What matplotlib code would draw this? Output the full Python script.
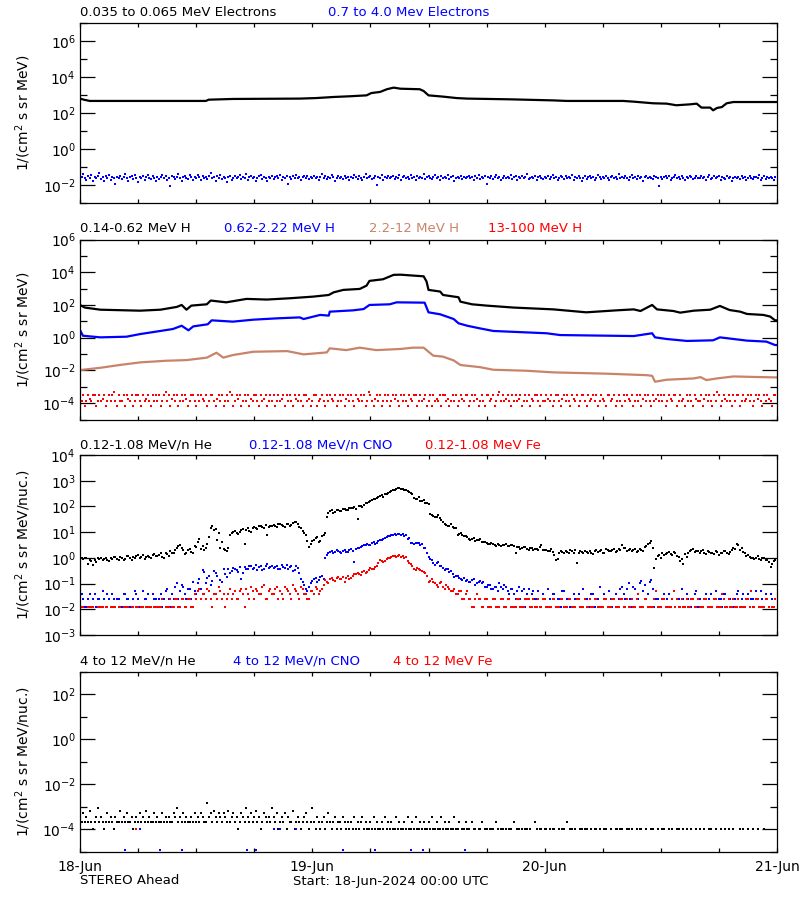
import numpy as np
import matplotlib
matplotlib.use('Agg')
import matplotlib.pyplot as plt
from matplotlib.ticker import FixedLocator, FuncFormatter, NullFormatter

# ---------------- data (time in hours since 18-Jun-2024 00:00 UTC) ----------------
# Panel 1: electrons
e_lo_t = [0, 0.4, 1.0, 13.0, 13.3, 15.8, 22.7, 24.4, 26.2, 27.9, 29.6, 30.1, 31.0, 31.7, 32.4,
          33.1, 35.1, 35.5, 36.0, 37.5, 38.9, 40.0, 44.4, 48.9, 50.3, 56.1, 57.2, 59.2, 60.6,
          61.6, 63.0, 63.7, 64.2, 65.1, 65.4, 65.8, 66.3, 66.8, 67.2, 67.5, 72.0]
e_lo_log = [2.80, 2.74, 2.67, 2.67, 2.74, 2.78, 2.80, 2.83, 2.89, 2.93, 2.98, 3.11, 3.17, 3.32, 3.41,
            3.35, 3.32, 3.22, 2.98, 2.91, 2.83, 2.80, 2.76, 2.70, 2.67, 2.67, 2.63, 2.54, 2.52,
            2.43, 2.48, 2.52, 2.30, 2.30, 2.15, 2.28, 2.33, 2.54, 2.58, 2.61, 2.61]
# 0.7-4.0 MeV electrons, 10-min samples, units of 1e-3
e_hi_milli = [
    35, 27, 41, 23, 19, 31, 25, 37, 17, 29, 23, 33, 45, 21, 27, 16, 31, 25, 35, 19, 29, 23, 11, 27,
    25, 33, 21, 29, 39, 23, 17, 27, 31, 21, 35, 25, 15, 29, 23, 33, 19, 27, 37, 25, 21, 31, 23, 16,
    29, 21, 27, 35, 23, 31, 19, 25, 9, 33, 27, 21, 29, 39, 23, 17, 27, 31, 25, 21, 35, 27, 19, 29,
    23, 37, 27, 19, 31, 25, 29, 21, 33, 45, 23, 27, 17, 31, 25, 35, 21, 29, 23, 14, 27, 33, 19, 25,
    31, 23, 27, 35, 21, 29, 25, 41, 19, 27, 33, 23, 29, 17, 25, 31, 37, 21, 27, 23, 16, 29, 25, 33,
    21, 27, 31, 23, 35, 19, 29, 25, 33, 11, 27, 21, 31, 25, 37, 23, 29, 19, 27, 33, 23, 31, 21, 27,
    25, 33, 23, 29, 19, 27, 39, 25, 31, 21, 27, 23, 35, 29, 17, 25, 31, 23, 27, 21, 33, 25, 29, 19,
    29, 23, 35, 27, 21, 31, 25, 19, 29, 43, 23, 27, 33, 21, 25, 31, 10, 27, 23, 35, 19, 29, 25, 31,
    23, 27, 33, 21, 29, 25, 37, 19, 27, 31, 23, 29, 21, 35, 25, 27, 19, 33, 23, 29, 25, 41, 21, 27,
    31, 25, 21, 29, 35, 23, 27, 19, 33, 25, 29, 23, 37, 21, 27, 31, 17, 25, 29, 23, 33, 21, 27, 25,
    27, 33, 23, 29, 19, 31, 25, 35, 21, 27, 23, 31, 12, 29, 25, 33, 21, 27, 37, 23, 29, 19, 25, 31,
    23, 29, 25, 35, 21, 27, 31, 19, 29, 25, 33, 23, 27, 39, 21, 25, 29, 23, 31, 19, 27, 33, 25, 21,
    29, 25, 31, 21, 27, 35, 23, 29, 19, 25, 33, 27, 21, 31, 23, 29, 25, 37, 19, 27, 23, 31, 25, 16,
    25, 31, 21, 27, 33, 23, 29, 19, 25, 35, 27, 21, 29, 23, 31, 25, 19, 27, 33, 23, 29, 21, 41, 25,
    27, 23, 31, 25, 19, 29, 35, 23, 27, 21, 31, 25, 29, 17, 27, 33, 23, 29, 25, 21, 31, 27, 23, 9,
    29, 21, 27, 33, 23, 31, 19, 25, 29, 37, 23, 27, 21, 31, 25, 19, 29, 23, 33, 27, 21, 25, 31, 23,
    25, 31, 23, 27, 19, 29, 35, 21, 25, 31, 23, 27, 33, 19, 29, 25, 21, 31, 23, 27, 17, 25, 29, 23,
    27, 21, 31, 25, 29, 19, 23, 33, 25, 21, 29, 27, 23, 35, 19, 25, 31, 21, 27, 23, 29, 25, 19, 27]

# Panel 2: protons
h1_t = [0, 0.5, 2.1, 6.2, 8.3, 10.0, 10.5, 11.0, 11.5, 13.1, 13.5, 15.1, 17.2, 19.3, 21.7, 24.1,
        25.7, 26.2, 27.2, 28.9, 29.6, 29.9, 31.3, 32.4, 33.1, 35.5, 35.8, 36.0, 37.2, 37.5, 39.1,
        39.3, 40.5, 42.0, 44.8, 48.9, 52.3, 55.4, 57.2, 57.9, 59.1, 59.6, 61.3, 62.0, 63.4, 65.1,
        66.1, 67.1, 68.2, 68.9, 70.6, 71.3, 71.8, 72.0]
h1_log = [2.0, 1.84, 1.71, 1.65, 1.71, 1.88, 2.0, 1.71, 1.96, 2.04, 2.27, 2.16, 2.37, 2.33, 2.41, 2.51,
          2.61, 2.77, 2.92, 2.98, 3.18, 3.47, 3.57, 3.84, 3.85, 3.75, 3.43, 2.92, 2.82, 2.61, 2.47,
          2.2, 2.04, 1.96, 1.84, 1.73, 1.55, 1.67, 1.73, 1.63, 2.0, 1.73, 1.63, 1.53, 1.65, 1.71,
          1.94, 1.69, 1.59, 1.45, 1.39, 1.29, 1.06, 1.06]
h2_t = [0, 0.3, 2.1, 4.8, 6.2, 8.3, 9.6, 10.5, 11.2, 11.7, 13.2, 13.6, 15.8, 17.9, 20.3, 22.7, 23.1,
        24.8, 25.7, 25.8, 28.2, 29.3, 29.9, 32.0, 32.7, 35.6, 36.0, 37.2, 38.6, 39.1, 40.0, 41.3,
        42.7, 48.2, 49.6, 57.2, 59.1, 59.4, 60.6, 62.7, 65.4, 66.1, 67.5, 68.9, 70.9, 71.8, 72.0]
h2_log = [0.47, 0.12, 0.02, 0.06, 0.22, 0.41, 0.53, 0.73, 0.45, 0.69, 0.82, 1.06, 0.98, 1.10, 1.18,
          1.24, 1.14, 1.39, 1.35, 1.59, 1.67, 1.75, 2.0, 2.04, 2.16, 2.14, 1.55, 1.43, 1.14, 0.88,
          0.73, 0.57, 0.41, 0.27, 0.16, 0.10, 0.27, 0.02, -0.08, -0.20, -0.16, 0.02, -0.08, -0.18,
          -0.24, -0.45, -0.45]
h3_t = [0, 2.1, 4.1, 6.2, 8.9, 11.0, 13.1, 14.1, 14.8, 15.8, 17.9, 21.4, 23.1, 25.5, 25.8, 27.5,
        28.9, 30.6, 33.1, 34.4, 35.5, 36.0, 36.5, 37.5, 38.6, 39.3, 41.3, 42.7, 46.1, 48.9, 54.4,
        58.5, 59.1, 59.4, 60.6, 63.4, 64.1, 64.7, 65.8, 67.5, 72.0]
h3_log = [-1.98, -1.84, -1.67, -1.51, -1.41, -1.37, -1.22, -0.92, -1.22, -1.06, -0.86, -0.82, -1.02,
          -0.90, -0.65, -0.76, -0.61, -0.76, -0.69, -0.61, -0.61, -0.86, -1.10, -1.16, -1.39, -1.67,
          -1.80, -1.96, -2.02, -2.12, -2.20, -2.29, -2.33, -2.69, -2.57, -2.49, -2.41, -2.59, -2.49,
          -2.37, -2.43]
# 13-100 MeV H: 10-min samples, codes into h4_levels (0 = no data)
h4_levels = [6.9e-5, 1.32e-4, 1.9e-4, 3.1e-4, 4.9e-4]
h4_code = [
    4, 2, 4, 1, 2, 4, 3, 2, 4, 4, 1, 2, 4, 2, 3, 4, 1, 2, 4, 2, 4, 5, 2, 1,
    4, 2, 2, 4, 1, 4, 3, 2, 4, 1, 2, 4, 4, 2, 1, 4, 2, 3, 4, 2, 1, 4, 2, 4,
    2, 4, 1, 2, 4, 5, 2, 4, 1, 3, 4, 2, 4, 1, 2, 4, 2, 4, 3, 1, 2, 4, 4, 2,
    1, 4, 2, 4, 3, 2, 4, 1, 2, 4, 4, 2, 1, 3, 4, 2, 4, 1, 2, 4, 2, 5, 4, 1,
    2, 4, 3, 4, 1, 2, 4, 2, 4, 1, 3, 2, 4, 4, 2, 1, 4, 2, 3, 4, 1, 2, 4, 2,
    4, 1, 2, 4, 2, 3, 4, 1, 4, 2, 4, 2, 1, 4, 3, 2, 4, 2, 1, 4, 4, 2, 3, 1,
    2, 4, 4, 1, 2, 3, 4, 2, 1, 4, 2, 4, 3, 2, 4, 1, 2, 4, 2, 4, 1, 3, 4, 2,
    4, 2, 1, 4, 3, 2, 4, 2, 4, 1, 2, 5, 4, 2, 1, 3, 4, 2, 4, 1, 2, 4, 2, 4,
    1, 2, 4, 3, 4, 2, 1, 4, 2, 4, 2, 1, 4, 3, 2, 4, 4, 1, 2, 4, 2, 3, 4, 1,
    2, 4, 1, 4, 2, 3, 2, 4, 1, 4, 4, 2, 3, 1, 2, 4, 2, 4, 1, 2, 4, 3, 2, 4,
    4, 1, 2, 4, 2, 4, 3, 1, 2, 4, 2, 1, 4, 4, 2, 3, 4, 1, 2, 4, 5, 2, 4, 2,
    3, 4, 2, 1, 4, 2, 4, 2, 3, 4, 1, 2, 4, 2, 4, 1, 3, 2, 4, 4, 2, 1, 4, 2,
    2, 4, 3, 2, 4, 1, 2, 4, 4, 2, 1, 3, 4, 2, 4, 2, 1, 4, 3, 2, 4, 1, 2, 4,
    4, 2, 1, 4, 2, 3, 4, 2, 4, 1, 2, 4, 3, 2, 1, 4, 4, 2, 3, 4, 1, 2, 4, 2,
    1, 4, 2, 4, 3, 2, 4, 1, 2, 4, 2, 4, 1, 3, 4, 2, 4, 2, 1, 4, 2, 3, 4, 2,
    4, 2, 4, 1, 2, 4, 3, 2, 4, 4, 1, 2, 4, 2, 3, 1, 4, 2, 4, 2, 1, 4, 3, 2,
    2, 4, 1, 3, 4, 2, 4, 2, 1, 4, 2, 5, 4, 1, 2, 4, 3, 2, 4, 2, 1, 4, 2, 4,
    4, 1, 2, 4, 2, 3, 4, 2, 4, 1, 2, 4, 3, 4, 2, 1, 4, 2, 4, 3, 2, 1, 4, 4]

# Panel 3: 0.12-1.08 MeV/n, values on the 20-min grid and at the 10-min points in between
he_lo = [
    1.1, 0.9, 1.0, 0.8, 0.55, 0.7, 0.9, 0.85, 1.0, 0.75, 0.9, 1.1,
    0.8, 1.0, 0.9, 1.2, 0.85, 1.0, 1.3, 1.1, 0.9, 1.2, 1.0, 1.4,
    1.2, 1.5, 1.0, 1.4, 1.8, 1.6, 2.4, 3.3, 2.0, 1.6, 2.2, 1.5,
    2.6, 5.5, 3.0, 2.4, 6.5, 17, 13, 9.0, 4.0, 2.0, 2.4, 9.5,
    11, 8.5, 12, 3.6, 14, 10, 16, 13, 18, 15, 7.8, 17,
    19, 16, 21, 18, 20, 17, 22, 24, 16, 11, 7.5, 2.7,
    4.5, 5.8, 4.0, 7.0, 9.5, 55, 70, 62, 75, 68, 80, 72,
    85, 95, 33, 105, 115, 140, 160, 190, 220, 260, 240, 310,
    380, 420, 470, 520, 480, 450, 380, 300, 190, 230, 160, 140,
    125, 48, 40, 45, 30, 20, 18, 21, 15, 8.0, 9.5, 7.0,
    6.5, 5.0, 6.0, 4.8, 5.2, 4.0, 3.8, 3.4, 3.6, 3.0, 3.3, 3.1,
    3.4, 2.8, 3.2, 1.6, 2.6, 2.4, 2.7, 2.1, 2.5, 2.2, 2.0, 3.3,
    2.0, 1.8, 2.2, 1.3, 0.9, 1.9, 1.5, 1.7, 2.0, 1.6, 0.65, 1.8,
    1.5, 1.7, 1.9, 1.4, 2.1, 1.8, 1.6, 2.3, 1.9, 2.0, 1.7, 2.2,
    3.2, 2.5, 2.0, 1.8, 2.2, 1.9, 2.1, 2.6, 3.6, 4.5, 0.4, 1.2,
    1.0, 1.3, 1.6, 1.4, 1.7, 1.2, 0.75, 0.6, 1.1, 1.9, 2.2, 1.8,
    1.6, 2.0, 1.4, 1.7, 1.5, 1.9, 1.3, 1.6, 1.8, 1.4, 2.1, 2.3,
    3.3, 2.4, 1.5, 1.3, 1.0, 0.9, 1.2, 0.8, 1.0, 0.85, 0.45, 0.75]
he_lo_mid = [
    0.95, 1.0, 0.6, 0.75, 0.8, 0.95, 1.0, 0.9, 0.85, 1.0, 1.05, 0.9,
    1.1, 0.85, 1.15, 0.95, 1.1, 1.2, 0.95, 1.3, 1.05, 1.1, 1.3, 1.2,
    1.3, 1.1, 1.6, 1.2, 1.5, 2.0, 3.0, 2.5, 1.4, 2.0, 1.7, 2.8,
    4.2, 2.2, 2.0, 3.5, 15, 12, 5.0, 2.5, 2.2, 1.8, 8.0, 10.5,
    9.5, 10, 13, 12, 11, 15, 14, 17, 16, 19, 16, 18,
    17, 20, 19, 16, 21, 19, 25, 20, 14, 9.5, 4.5, 3.5,
    5.0, 6.5, 4.5, 8.0, 40, 65, 58, 72, 66, 78, 74, 88,
    90, 80, 100, 95, 130, 150, 175, 200, 240, 280, 300, 340,
    400, 450, 500, 470, 430, 410, 330, 220, 200, 170, 180, 130,
    50, 42, 38, 35, 24, 19, 17, 16, 14, 8.5, 7.5, 6.8,
    5.5, 5.2, 4.5, 5.0, 4.3, 4.0, 3.5, 3.7, 3.2, 3.5, 2.9, 3.3,
    3.0, 3.1, 2.9, 2.6, 2.3, 2.7, 2.3, 2.4, 2.1, 2.3, 2.6, 2.1,
    2.1, 1.9, 1.7, 0.85, 1.6, 1.7, 1.9, 1.5, 1.8, 2.1, 1.6, 1.7,
    1.8, 1.6, 1.5, 1.9, 1.7, 2.0, 1.5, 2.0, 1.8, 2.3, 1.9, 2.0,
    2.4, 1.9, 2.2, 2.0, 1.7, 2.3, 1.9, 3.0, 3.8, 2.5, 0.9, 1.3,
    1.5, 1.4, 1.7, 1.3, 1.5, 1.1, 0.9, 1.4, 1.6, 2.0, 1.7, 1.9,
    1.8, 1.5, 1.9, 1.6, 1.4, 1.7, 1.6, 1.9, 1.5, 1.7, 2.4, 3.5,
    2.0, 1.7, 1.2, 1.1, 0.95, 1.0, 0.9, 0.95, 0.8, 0.7, 0.6, 0.8]
count_unit3 = 0.0126
cno_lo_code = [
    6, 2, 1, 3, 2, 1, 2, 4, 1, 2, 3, 1,
    2, 1, 3, 2, 1, 4, 2, 1, 2, 3, 1, 2,
    1, 3, 2, 5, 1, 2, 8, 4, 6, 2, 5, 9,
    3, 12, 27, 8, 15, 10, 20, 6, 9, 18, 28, 24,
    30, 22, 12, 35, 28, 40, 33, 26, 38, 30, 44, 36,
    32, 40, 29, 36, 42, 34, 24, 38, 20, 9, 5, 6,
    10, 13, 11, 15, 80, 120, 145, 130, 150, 125, 160, 140,
    170, 55, 200, 210, 240, 280, 260, 330, 300, 380, 420, 520,
    580, 640, 620, 700, 650, 600, 480, 300, 290, 310, 270, 185,
    87, 65, 42, 55, 38, 27, 30, 25, 14, 16, 12, 13,
    11, 9, 12, 8, 10, 9, 6, 7, 5, 6, 8, 5,
    6, 3, 5, 2, 6, 4, 1, 5, 3, 2, 4, 1,
    2, 5, 1, 3, 2, 1, 4, 2, 1, 3, 2, 1,
    5, 2, 1, 3, 2, 6, 1, 2, 4, 1, 3, 2,
    6, 2, 8, 1, 5, 2, 10, 7, 3, 11, 1, 2,
    1, 3, 2, 1, 4, 2, 1, 2, 3, 1, 2, 4,
    2, 1, 3, 2, 1, 4, 2, 1, 3, 2, 1, 2,
    4, 2, 1, 3, 2, 1, 2, 4, 1, 2, 3, 1]
cno_lo_mid = [
    3, 1, 2, 1, 3, 2, 1, 2, 3, 1, 2, 2,
    1, 3, 2, 1, 2, 3, 1, 4, 2, 1, 3, 2,
    2, 1, 4, 2, 3, 6, 2, 7, 3, 5, 2, 4,
    8, 5, 22, 13, 7, 25, 16, 11, 30, 14, 20, 33,
    26, 35, 20, 30, 38, 29, 42, 35, 27, 40, 32, 38,
    36, 28, 41, 33, 30, 39, 27, 31, 12, 7, 4, 8,
    12, 9, 14, 12, 100, 135, 125, 155, 140, 150, 130, 165,
    150, 180, 190, 230, 250, 240, 300, 280, 350, 400, 460, 550,
    620, 680, 660, 630, 560, 420, 310, 280, 300, 250, 200, 120,
    70, 50, 48, 40, 33, 28, 22, 18, 15, 13, 11, 10,
    9, 11, 7, 9, 8, 6, 7, 5, 6, 4, 6, 7,
    4, 5, 3, 4, 2, 5, 3, 1, 4, 2, 1, 3,
    1, 2, 3, 1, 2, 4, 1, 2, 1, 2, 3, 1,
    2, 1, 3, 1, 2, 1, 3, 1, 2, 2, 1, 5,
    3, 5, 2, 6, 2, 8, 4, 2, 9, 5, 2, 1,
    2, 1, 3, 2, 1, 2, 5, 1, 2, 1, 3, 1,
    1, 2, 1, 3, 2, 1, 2, 3, 1, 2, 1, 3,
    1, 3, 2, 1, 2, 4, 1, 2, 3, 1, 2, 2]
fe_lo_code = [
    1, 1, 0, 1, 1, 0, 1, 1, 1, 0, 1, 1,
    1, 0, 1, 1, 1, 0, 1, 1, 0, 1, 1, 1,
    1, 1, 0, 1, 2, 1, 2, 1, 2, 1, 2, 1,
    2, 5, 3, 2, 4, 1, 3, 6, 2, 1, 3, 2,
    4, 2, 5, 1, 3, 6, 2, 4, 3, 7, 2, 5,
    3, 6, 4, 2, 5, 3, 7, 4, 2, 5, 3, 2,
    4, 6, 3, 5, 11, 8, 13, 10, 14, 12, 9, 15,
    13, 18, 20, 17, 24, 22, 31, 28, 40, 65, 55, 70,
    80, 95, 87, 100, 90, 85, 50, 40, 27, 30, 25, 20,
    9, 12, 8, 6, 9, 5, 6, 4, 5, 3, 4, 2,
    4, 2, 1, 3, 2, 1, 2, 1, 2, 1, 1, 2,
    1, 2, 1, 1, 2, 1, 2, 2, 1, 1, 2, 1,
    2, 1, 1, 2, 1, 2, 1, 1, 2, 1, 2, 1,
    1, 1, 2, 1, 2, 1, 1, 2, 1, 2, 1, 1,
    2, 1, 1, 2, 1, 3, 1, 2, 1, 1, 2, 1,
    1, 2, 1, 1, 4, 2, 1, 1, 2, 1, 2, 1,
    1, 1, 2, 1, 1, 2, 1, 3, 1, 2, 1, 1,
    2, 1, 1, 2, 4, 1, 2, 1, 1, 2, 0, 1]
fe_lo_mid = [
    1, 0, 1, 1, 0, 1, 1, 0, 1, 1, 1, 0,
    1, 1, 1, 0, 1, 1, 0, 1, 1, 1, 0, 1,
    1, 2, 1, 1, 1, 2, 1, 2, 1, 2, 1, 3,
    4, 2, 3, 5, 2, 3, 2, 4, 3, 2, 5, 3,
    2, 4, 3, 5, 2, 4, 5, 3, 6, 2, 4, 3,
    5, 2, 3, 6, 4, 2, 5, 3, 6, 3, 2, 4,
    3, 5, 4, 7, 9, 12, 11, 13, 12, 14, 13, 12,
    16, 19, 18, 22, 20, 27, 30, 35, 48, 58, 62, 75,
    88, 92, 96, 85, 80, 60, 45, 30, 32, 26, 22, 15,
    10, 9, 7, 8, 6, 7, 5, 4, 3, 4, 2, 3,
    2, 1, 2, 2, 1, 2, 1, 1, 2, 1, 2, 1,
    2, 1, 1, 2, 1, 1, 2, 1, 2, 1, 1, 2,
    1, 1, 2, 1, 1, 2, 1, 2, 1, 1, 2, 1,
    2, 1, 1, 2, 1, 1, 2, 1, 1, 2, 1, 2,
    1, 2, 1, 1, 2, 1, 1, 2, 1, 1, 4, 1,
    2, 1, 1, 2, 1, 1, 2, 1, 1, 2, 1, 2,
    1, 2, 1, 1, 2, 1, 1, 2, 1, 1, 2, 1,
    1, 1, 2, 1, 1, 2, 1, 1, 2, 1, 1, 2]

# Panel 4: 4-12 MeV/n, He 10-min codes into he_hi_levels
he_hi_levels = [1e-4, 2e-4, 3.3e-4, 5e-4, 6.6e-4, 9e-4, 1.5e-3]
he_hi_code = [
    0, 2, 4, 2, 3, 2, 5, 2, 1, 2, 3, 6, 2, 3, 2, 1, 2, 4, 2, 3, 2, 1, 3, 2,
    2, 5, 2, 3, 2, 4, 2, 2, 3, 1, 2, 3, 2, 4, 2, 3, 2, 5, 2, 3, 2, 2, 4, 2,
    3, 2, 2, 4, 2, 3, 2, 3, 2, 2, 4, 3, 6, 2, 3, 2, 4, 2, 3, 2, 2, 3, 2, 4,
    2, 3, 2, 4, 3, 2, 2, 7, 3, 4, 2, 5, 3, 2, 4, 3, 2, 4, 3, 2, 5, 2, 3, 4,
    2, 3, 1, 2, 4, 3, 2, 6, 3, 2, 4, 2, 3, 5, 2, 3, 1, 2, 4, 3, 2, 3, 2, 6,
    3, 2, 4, 1, 2, 3, 2, 4, 1, 3, 2, 2, 5, 1, 2, 3, 2, 1, 2, 3, 4, 2, 1, 2,
    6, 2, 1, 3, 2, 1, 2, 3, 1, 2, 4, 2, 1, 2, 3, 1, 2, 2, 1, 3, 2, 1, 2, 1,
    2, 1, 3, 1, 2, 1, 2, 3, 1, 2, 1, 1, 2, 1, 3, 1, 2, 1, 1, 2, 1, 3, 1, 2,
    1, 2, 1, 1, 3, 1, 2, 1, 1, 2, 1, 3, 1, 1, 2, 1, 3, 1, 1, 2, 1, 2, 1, 1,
    2, 1, 3, 1, 1, 2, 1, 1, 3, 1, 2, 1, 1, 2, 1, 1, 3, 1, 1, 2, 0, 1, 1, 2,
    1, 1, 0, 2, 1, 1, 0, 1, 1, 2, 0, 1, 1, 0, 1, 1, 1, 0, 2, 1, 0, 1, 1, 0,
    1, 0, 1, 1, 0, 2, 0, 1, 1, 0, 1, 0, 1, 1, 0, 1, 0, 0, 2, 1, 0, 1, 1, 0,
    1, 1, 0, 1, 0, 1, 1, 0, 0, 1, 0, 1, 1, 0, 2, 0, 1, 1, 0, 1, 0, 0, 1, 1,
    0, 1, 1, 0, 0, 1, 0, 1, 1, 0, 1, 0, 0, 1, 1, 0, 0, 1, 0, 0, 1, 1, 0, 1,
    1, 0, 0, 1, 1, 0, 1, 0, 0, 1, 0, 1, 1, 0, 0, 1, 0, 0, 1, 1, 0, 0, 1, 0,
    0, 1, 1, 0, 0, 1, 0, 1, 0, 0, 1, 1, 0, 0, 1, 0, 1, 0, 0, 1, 0, 0, 1, 0,
    1, 0, 0, 1, 0, 0, 1, 1, 0, 0, 1, 0, 0, 1, 0, 0, 1, 0, 1, 0, 0, 1, 0, 0,
    0, 1, 0, 1, 0, 0, 1, 0, 0, 1, 0, 0, 1, 0, 0, 0, 1, 0, 0, 0, 0, 0, 0, 0]
cno_hi_t = [4.7, 6.2, 8.3, 10.5, 17.2, 18.2, 20.0, 20.7, 22.3, 27.2, 30.5, 34.2, 35.4, 39.8]
cno_hi_v = [1.2e-5, 1e-4, 1.2e-5, 1.2e-5, 1.2e-5, 1.2e-5, 1e-4, 1e-4, 1e-4, 1.2e-5, 1.2e-5,
            1.2e-5, 1.2e-5, 1.2e-5]
fe_hi_t = [5.8]
fe_hi_v = [1e-4]

titles = [
    [("0.035 to 0.065 MeV Electrons", 'black', 80), ("0.7 to 4.0 Mev Electrons", 'blue', 328)],
    [("0.14-0.62 MeV H", 'black', 80), ("0.62-2.22 MeV H", 'blue', 224),
     ("2.2-12 MeV H", '#c8846a', 369), ("13-100 MeV H", 'red', 488)],
    [("0.12-1.08 MeV/n He", 'black', 80), ("0.12-1.08 MeV/n CNO", 'blue', 249),
     ("0.12-1.08 MeV Fe", 'red', 425)],
    [("4 to 12 MeV/n He", 'black', 80), ("4 to 12 MeV/n CNO", 'blue', 233),
     ("4 to 12 MeV Fe", 'red', 393)],
]
day_labels = ["18-Jun", "19-Jun", "20-Jun", "21-Jun"]

# ---------------- plotting ----------------
BROWN = '#c8846a'
W, H = 800, 900
fig = plt.figure(figsize=(8, 9), dpi=100)
plt.rcParams['font.family'] = ['DejaVu Sans']
FS = 9.5


def make_ax(top, bottom):
    return fig.add_axes([80 / W, 1 - bottom / H, 697 / W, (bottom - top) / H])


def style(ax, lo, hi, maj_exp, min_exp, ylabel):
    ax.set_yscale('log')
    ax.set_ylim(10.0 ** lo, 10.0 ** hi)
    ax.set_xlim(0, 72)
    ax.yaxis.set_major_locator(FixedLocator([10.0 ** k for k in maj_exp]))
    ax.yaxis.set_minor_locator(FixedLocator([10.0 ** k for k in min_exp]))
    ax.yaxis.set_major_formatter(FuncFormatter(lambda v, p: r'$10^{%d}$' % int(round(np.log10(v)))))
    ax.yaxis.set_minor_formatter(NullFormatter())
    ax.tick_params(axis='y', which='major', direction='in', length=10.8, width=0.9,
                   left=True, right=True, labelsize=FS + 0.5, pad=3)
    ax.tick_params(axis='y', which='minor', direction='in', length=5.0, width=0.9,
                   left=True, right=True)
    ax.xaxis.set_major_locator(FixedLocator([0, 24, 48, 72]))
    ax.xaxis.set_minor_locator(FixedLocator([6, 12, 18, 30, 36, 42, 54, 60, 66]))
    ax.tick_params(axis='x', which='both', direction='in', length=3.0, width=0.9,
                   top=True, bottom=True, labelbottom=False)
    for s in ax.spines.values():
        s.set_linewidth(0.9)
    ax.set_ylabel(ylabel, fontsize=FS + 0.5)
    ax.yaxis.set_label_coords(-0.067, 0.5)


def dots(ax, t, v, color, ms=1.6):
    ax.plot(t, v, color=color, linestyle='none', marker='s', markersize=ms, markeredgewidth=0)


def coded(codes, unit):
    c = np.array(codes, dtype=float)
    return np.where(c > 0, c * unit, np.nan)


# Panel 1
ax1 = make_ax(23, 203)
style(ax1, -3, 7, (-2, 0, 2, 4, 6), (-3, -1, 1, 3, 5, 7), r'1/(cm$^2$ s sr MeV)')
ax1.plot(e_lo_t, 10.0 ** np.array(e_lo_log), color='black', lw=1.6)
dots(ax1, np.arange(len(e_hi_milli)) / 6.0, np.array(e_hi_milli) * 1e-3, 'blue', ms=1.8)

# Panel 2
ax2 = make_ax(239.5, 419.5)
style(ax2, -5, 6, (-4, -2, 0, 2, 4, 6), (-5, -3, -1, 1, 3, 5), r'1/(cm$^2$ s sr MeV)')
ax2.plot(h1_t, 10.0 ** np.array(h1_log), color='black', lw=1.6)
ax2.plot(h2_t, 10.0 ** np.array(h2_log), color='blue', lw=1.6)
ax2.plot(h3_t, 10.0 ** np.array(h3_log), color=BROWN, lw=1.6)
hc = np.array(h4_code)
hv = np.where(hc > 0, np.array([0] + h4_levels)[hc], np.nan)
dots(ax2, np.arange(len(hc)) / 6.0, hv, 'red', ms=1.8)

# Panel 3
ax3 = make_ax(455, 635)
style(ax3, -3, 4, range(-3, 5), (), r'1/(cm$^2$ s sr MeV/nuc.)')
dots(ax3, np.arange(len(he_lo)) / 3.0, he_lo, 'black')
dots(ax3, np.arange(len(he_lo_mid)) / 3.0 + 1 / 6.0, he_lo_mid, 'black')
dots(ax3, np.arange(len(cno_lo_code)) / 3.0, coded(cno_lo_code, count_unit3), 'blue', ms=1.8)
dots(ax3, np.arange(len(cno_lo_mid)) / 3.0 + 1 / 6.0, coded(cno_lo_mid, count_unit3), 'blue', ms=1.8)
dots(ax3, np.arange(len(fe_lo_code)) / 3.0, coded(fe_lo_code, count_unit3), 'red', ms=1.8)
dots(ax3, np.arange(len(fe_lo_mid)) / 3.0 + 1 / 6.0, coded(fe_lo_mid, count_unit3), 'red', ms=1.8)

# Panel 4
ax4 = make_ax(671.5, 851.5)
style(ax4, -5, 3, (-4, -2, 0, 2), (-5, -3, -1, 1, 3), r'1/(cm$^2$ s sr MeV/nuc.)')
gc = np.array(he_hi_code)
gv = np.where(gc > 0, np.array([0] + he_hi_levels)[gc], np.nan)
dots(ax4, np.arange(len(gc)) / 6.0, gv, 'black')
dots(ax4, cno_hi_t, cno_hi_v, 'blue')
dots(ax4, fe_hi_t, fe_hi_v, 'red')
ax4.xaxis.set_major_formatter(FuncFormatter(lambda v, p: day_labels[int(round(v / 24))]))
ax4.tick_params(axis='x', which='major', labelbottom=True, labelsize=FS + 0.5, pad=6)

# Titles above panels
title_y = [13, 229, 445.5, 661.5]
for row, yy in zip(titles, title_y):
    for txt, col, xx in row:
        fig.text(xx / W, 1 - yy / H, txt, color=col, fontsize=FS, ha='left', va='center')

fig.text(80 / W, 1 - 881 / H, "STEREO Ahead", fontsize=FS, ha='left', va='center')
fig.text(293 / W, 1 - 881 / H, "Start: 18-Jun-2024 00:00 UTC", fontsize=FS, ha='left', va='center')

fig.savefig('out.png', dpi=100, facecolor='white')
